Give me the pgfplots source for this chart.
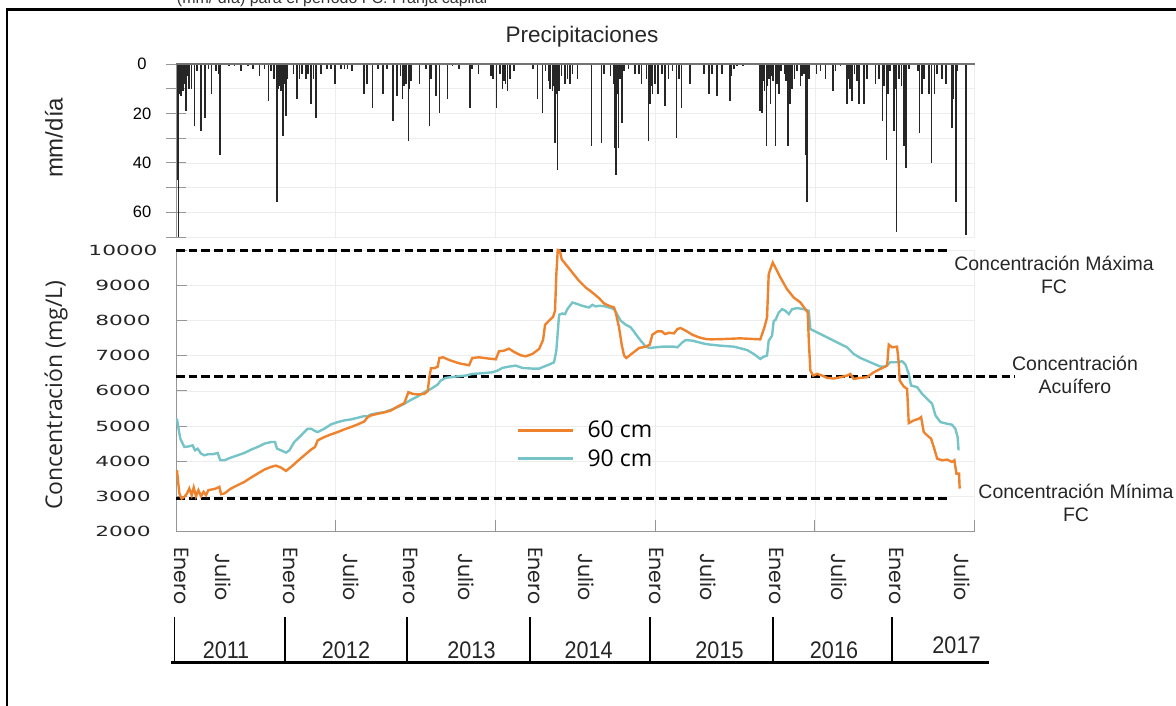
\documentclass[border=0pt]{standalone}
\usepackage{pgfplots}
\pgfplotsset{compat=1.18}
\usepackage{fontspec}
\setmainfont{Liberation Sans}
\newfontfamily\widefont[FakeStretch=1.55]{DejaVu Sans}
\newfontfamily\myriad{Open Sans}
\newfontfamily\narrowfont[FakeStretch=0.9]{Liberation Sans}
\newfontfamily\gothic{Poppins}
\definecolor{c60}{RGB}{238,130,45}
\definecolor{c90}{RGB}{118,196,200}
\definecolor{axgray}{RGB}{150,150,150}

% precipitacion diaria (mm/dia), x en anos decimales
\pgfplotstableread{
t mm
2011.015 47
2011.020 70
2011.030 12
2011.042 13
2011.048 6
2011.056 11
2011.066 8
2011.084 19
2011.095 5
2011.111 10
2011.131 10
2011.153 25
2011.175 3
2011.209 27
2011.242 22
2011.270 2
2011.298 12
2011.334 3
2011.354 4
2011.370 37
2011.445 1
2011.487 1
2011.543 3
2011.599 1
2011.641 2
2011.696 5
2011.738 2
2011.771 15
2011.794 3
2011.821 6
2011.844 56
2011.853 10
2011.863 9
2011.877 11
2011.887 5
2011.896 29
2011.907 8
2011.919 21
2011.933 6
2011.983 4
2012.011 14
2012.030 6
2012.053 4
2012.086 6
2012.105 4
2012.128 16
2012.150 6
2012.170 22
2012.211 4
2012.261 2
2012.295 2
2012.328 8
2012.378 2
2012.406 2
2012.434 2
2012.468 3
2012.568 12
2012.596 8
2012.640 18
2012.685 2
2012.727 12
2012.763 2
2012.815 23
2012.846 13
2012.874 5
2012.891 14
2012.905 9
2012.921 8
2012.941 31
2012.952 10
2012.963 7
2013.033 8
2013.089 2
2013.116 25
2013.130 6
2013.172 13
2013.200 20
2013.267 14
2013.308 1
2013.364 2
2013.454 18
2013.475 2
2013.526 4
2013.629 5
2013.648 6
2013.676 18
2013.704 4
2013.726 10
2013.740 7
2013.754 8
2013.768 11
2013.788 6
2013.824 3
2013.982 2
2014.018 14
2014.060 20
2014.088 3
2014.110 7
2014.122 10
2014.144 11
2014.155 9
2014.166 32
2014.176 12
2014.186 43
2014.200 11
2014.220 5
2014.250 8
2014.269 6
2014.289 8
2014.311 4
2014.353 6
2014.470 33
2014.553 32
2014.576 4
2014.631 5
2014.655 8
2014.665 34
2014.676 45
2014.685 12
2014.695 34
2014.710 6
2014.723 24
2014.743 3
2014.779 2
2014.835 4
2014.868 4
2014.887 8
2014.930 6
2014.946 31
2014.957 16
2014.968 9
2014.979 12
2015.002 8
2015.027 12
2015.058 4
2015.085 17
2015.113 6
2015.146 3
2015.180 30
2015.202 6
2015.221 18
2015.292 8
2015.411 4
2015.453 12
2015.478 4
2015.520 13
2015.561 4
2015.626 15
2015.640 5
2015.659 2
2015.687 1
2015.737 1
2015.876 19
2015.886 8
2015.896 20
2015.905 7
2015.915 11
2015.932 33
2015.941 9
2015.951 6
2015.965 16
2015.976 5
2015.987 7
2016.007 33
2016.020 8
2016.035 12
2016.054 3
2016.082 4
2016.096 7
2016.110 33
2016.127 16
2016.146 10
2016.165 6
2016.188 3
2016.216 9
2016.230 5
2016.244 4
2016.261 37
2016.272 56
2016.286 6
2016.349 4
2016.383 3
2016.424 6
2016.489 11
2016.508 3
2016.550 1
2016.606 16
2016.617 6
2016.628 10
2016.647 15
2016.667 4
2016.690 7
2016.703 16
2016.745 16
2016.773 6
2016.842 8
2016.870 6
2016.900 23
2016.915 9
2016.934 39
2016.948 12
2016.962 3
2016.996 27
2017.008 10
2017.018 68
2017.037 6
2017.060 9
2017.079 33
2017.098 42
2017.121 2
2017.196 3
2017.210 28
2017.232 12
2017.250 6
2017.288 12
2017.310 40
2017.335 12
2017.358 4
2017.399 6
2017.430 8
2017.482 26
2017.496 14
2017.513 56
2017.529 3
2017.600 69
}\precip

% concentracion a 60 cm (mg/L)
\pgfplotstableread{
t c
2011.008 3745
2011.028 3085
2011.047 2943
2011.070 2990
2011.092 3085
2011.111 3226
2011.131 3038
2011.148 3255
2011.167 3009
2011.187 3179
2011.209 3009
2011.231 3132
2011.251 3038
2011.270 3179
2011.298 3198
2011.334 3226
2011.362 3274
2011.376 3066
2011.404 3085
2011.459 3226
2011.515 3321
2011.571 3415
2011.627 3538
2011.682 3651
2011.738 3764
2011.794 3840
2011.835 3877
2011.877 3821
2011.919 3726
2011.961 3840
2012.017 4009
2012.072 4170
2012.128 4330
2012.161 4406
2012.184 4594
2012.239 4689
2012.295 4764
2012.351 4830
2012.406 4906
2012.462 4972
2012.518 5047
2012.573 5132
2012.601 5255
2012.629 5302
2012.685 5349
2012.740 5387
2012.796 5443
2012.852 5557
2012.907 5651
2012.941 5962
2012.977 5915
2013.019 5896
2013.074 5915
2013.103 5991
2013.116 6387
2013.130 6642
2013.158 6642
2013.186 6689
2013.200 6934
2013.231 6953
2013.281 6877
2013.364 6783
2013.448 6726
2013.475 6934
2013.531 6953
2013.615 6915
2013.671 6896
2013.698 7123
2013.740 7142
2013.782 7198
2013.824 7104
2013.880 7009
2013.921 6981
2013.977 7047
2014.033 7189
2014.066 7443
2014.083 7877
2014.116 7991
2014.150 8104
2014.166 8274
2014.177 9311
2014.189 10000
2014.206 9980
2014.222 9736
2014.256 9594
2014.311 9358
2014.367 9123
2014.423 8934
2014.478 8792
2014.534 8632
2014.576 8481
2014.617 8415
2014.659 8368
2014.673 8226
2014.701 7802
2014.723 7311
2014.743 7000
2014.762 6934
2014.812 7066
2014.868 7217
2014.924 7255
2014.957 7311
2014.979 7594
2015.021 7689
2015.058 7689
2015.085 7613
2015.119 7651
2015.160 7632
2015.188 7755
2015.216 7783
2015.258 7708
2015.313 7594
2015.369 7519
2015.425 7472
2015.469 7462
2015.575 7472
2015.714 7491
2015.881 7462
2015.915 7802
2015.937 8085
2015.951 9311
2015.965 9453
2015.985 9642
2016.007 9500
2016.049 9217
2016.104 8887
2016.160 8651
2016.216 8509
2016.257 8321
2016.277 8226
2016.286 7425
2016.299 6575
2016.322 6434
2016.355 6481
2016.397 6434
2016.439 6368
2016.494 6349
2016.550 6387
2016.606 6434
2016.633 6481
2016.661 6340
2016.717 6368
2016.773 6387
2016.828 6528
2016.884 6623
2016.940 6717
2016.954 7311
2016.982 7236
2017.023 7255
2017.037 6811
2017.045 6292
2017.079 6123
2017.107 6057
2017.121 5085
2017.163 5160
2017.205 5208
2017.224 5255
2017.246 4830
2017.274 4736
2017.307 4642
2017.330 4406
2017.358 4075
2017.399 4028
2017.441 4047
2017.482 3981
2017.502 4028
2017.519 3651
2017.541 3651
2017.546 3226
}\cSesenta

% concentracion a 90 cm (mg/L)
\pgfplotstableread{
t c
2011.008 5208
2011.019 4972
2011.036 4642
2011.070 4406
2011.111 4425
2011.139 4453
2011.159 4311
2011.181 4358
2011.209 4217
2011.237 4170
2011.265 4198
2011.306 4198
2011.348 4236
2011.370 4028
2011.404 4028
2011.459 4104
2011.515 4170
2011.571 4236
2011.627 4330
2011.682 4406
2011.738 4500
2011.794 4547
2011.827 4547
2011.844 4358
2011.877 4311
2011.919 4245
2011.947 4311
2011.988 4547
2012.044 4736
2012.100 4925
2012.128 4925
2012.161 4858
2012.184 4830
2012.239 4925
2012.295 5047
2012.351 5113
2012.406 5160
2012.462 5189
2012.518 5236
2012.573 5283
2012.601 5274
2012.629 5330
2012.685 5368
2012.740 5396
2012.796 5462
2012.852 5538
2012.907 5632
2012.963 5745
2013.019 5840
2013.074 5962
2013.130 6057
2013.186 6179
2013.211 6292
2013.253 6368
2013.336 6406
2013.420 6434
2013.475 6481
2013.559 6500
2013.643 6528
2013.685 6575
2013.726 6651
2013.782 6689
2013.838 6717
2013.893 6651
2013.977 6632
2014.033 6632
2014.074 6689
2014.116 6745
2014.158 6811
2014.177 7142
2014.200 8160
2014.227 8198
2014.250 8179
2014.269 8321
2014.297 8443
2014.311 8509
2014.339 8481
2014.394 8415
2014.450 8368
2014.478 8443
2014.506 8398
2014.534 8415
2014.576 8405
2014.617 8368
2014.659 8321
2014.687 8160
2014.715 7991
2014.757 7877
2014.799 7802
2014.840 7613
2014.882 7425
2014.924 7255
2014.957 7217
2015.007 7236
2015.063 7255
2015.119 7255
2015.160 7255
2015.188 7236
2015.230 7377
2015.258 7443
2015.313 7425
2015.369 7377
2015.425 7330
2015.469 7311
2015.547 7283
2015.659 7255
2015.770 7160
2015.826 7047
2015.881 6906
2015.910 6972
2015.937 7000
2015.951 7425
2015.979 7566
2015.993 7991
2016.007 8009
2016.035 8226
2016.063 8321
2016.091 8274
2016.119 8179
2016.146 8321
2016.188 8349
2016.244 8321
2016.286 8274
2016.299 7755
2016.355 7660
2016.439 7519
2016.522 7377
2016.606 7236
2016.661 7047
2016.717 6934
2016.800 6811
2016.884 6689
2016.926 6689
2016.967 6811
2017.023 6811
2017.065 6840
2017.093 6745
2017.121 6481
2017.140 6151
2017.191 6104
2017.232 5915
2017.274 5774
2017.316 5632
2017.344 5302
2017.385 5113
2017.441 5066
2017.482 5038
2017.510 4925
2017.529 4689
2017.537 4311
}\cNoventa

\begin{document}
\begin{tikzpicture}[x=1pt,y=1pt]
\useasboundingbox (0,0) rectangle (1176,706);

% marco y pie de figura cortado
\node[anchor=base, font=\fontsize{16}{16}\selectfont, text=black!80] at (333,702) {(mm/ día) para el período FC: Franja capilar};
\draw[line width=2.2pt] (7,-10) -- (7,696.5) -- (1190,696.5);

% ---- precipitaciones ----
\begin{axis}[
    at={(176pt,469pt)}, anchor=south west,
    scale only axis, width=798.5pt, height=173pt,
    xmin=2011, xmax=2017.67, ymin=0, ymax=70, y dir=reverse,
    axis line style={draw=none},
    xtick={2011,2012.334,2013.668,2015.002,2016.336,2017.67},
    xticklabels={}, xtick style={draw=none},
    ytick={0,20,40,60}, minor ytick={10,30,50,70},
    ytick pos=left, tick align=center,
    major tick length=20pt, minor tick length=20pt,
    ytick style={axgray, line width=0.8pt},
    minor tick style={axgray, line width=0.8pt},
    grid=both,
    major grid style={black!7, line width=0.6pt},
    minor grid style={black!7, line width=0.6pt},
    yticklabel style={font=\fontsize{16.5}{16.5}\selectfont, anchor=center, xshift=-24pt},
    /pgf/number format/assume math mode=true,
    clip=false,
]
\addplot[ycomb, black!85, line width=1.6pt, no marks] table[x=t, y=mm] {\precip};
\draw[axgray, line width=0.9pt] (axis description cs:0,0) -- (axis description cs:0,1);
\draw[black!55, line width=1.1pt] (axis description cs:0,1) -- (axis description cs:1,1);
\end{axis}

% ---- concentracion ----
\begin{axis}[
    at={(176pt,174.3pt)}, anchor=south west,
    scale only axis, width=798.5pt, height=281.7pt,
    xmin=2011, xmax=2017.67, ymin=2000, ymax=10000,
    axis x line*=bottom, axis y line*=left,
    axis line style={-, draw=axgray, line width=0.9pt},
    xtick={2011,2012.334,2013.668,2015.002,2016.336,2017.67},
    xticklabels={},
    ytick={2000,3000,...,10000},
    tick align=inside, major tick length=11.5pt,
    tick style={axgray, line width=0.8pt},
    grid=major, major grid style={black!7, line width=0.6pt},
    scaled y ticks=false,
    yticklabel style={font=\widefont\fontsize{14}{14}\selectfont, text=black!85, anchor=center, xshift=-53pt,
        /pgf/number format/1000 sep={}},
    /pgf/number format/assume math mode=true,
    clip=false,
    legend style={at={(axis description cs:0.427,0.40)}, anchor=north west, draw=none, fill=none,
        font=\myriad\fontsize{23}{23}\selectfont, row sep=6pt, inner sep=0pt,
        /tikz/every odd column/.append style={column sep=11pt}},
    legend cell align=left,
    legend image code/.code={\draw[#1] (0pt,0pt) -- (55pt,0pt);},
]
\addlegendimage{c60, line width=2.4pt}
\addlegendentry{60 cm}
\addlegendimage{c90, line width=2.4pt}
\addlegendentry{90 cm}
% limites de referencia
\addplot[black, line width=3pt, dash pattern=on 8.5pt off 4.2pt, forget plot] coordinates {(2011,10000) (2017.442,10000)};
\addplot[black, line width=3pt, dash pattern=on 8.5pt off 4.2pt, forget plot] coordinates {(2011,6400) (2018.002,6400)};
\addplot[black, line width=3pt, dash pattern=on 8.5pt off 4.2pt, forget plot] coordinates {(2011,2950) (2017.442,2950)};
\addplot[c90, line width=2.4pt, forget plot] table[x=t, y=c] {\cNoventa};
\addplot[c60, line width=2.4pt, forget plot] table[x=t, y=c] {\cSesenta};
\end{axis}

% textos
\node[font=\fontsize{22.5}{22.5}\selectfont, text=black!85] at (582,669) {Precipitaciones};
\node[rotate=90, font=\fontsize{24}{24}\selectfont, text=black!85] at (54,568) {mm/día};
\node[rotate=90, font=\myriad\fontsize{23}{23}\selectfont, text=black!85] at (56,311) {Concentración (mg/L)};

\begin{scope}[font=\fontsize{19.5}{23}\selectfont, text=black!85]
\node[align=center] at (1054,431.5) {Concentración Máxima\\FC};
\node[align=center] at (1075,331.5) {Concentración\\Acuífero};
\node[align=center] at (1076,203.5) {Concentración Mínima\\FC};
\end{scope}

% meses
\begin{scope}[font=\gothic\fontsize{20.5}{20.5}\selectfont, text=black!85, inner sep=0pt]
\foreach \x in {181.6,290.6,410.5,535.3,656.8,776.7,896.6}
  \node[rotate=-90, anchor=west] at (\x,159) {Enero};
\foreach \x in {223.6,351.6,466,586,708.6,839.4,962}
  \node[rotate=-90, anchor=west] at (\x,153) {Julio};
\end{scope}

% anos
\draw[line width=3pt] (170.7,43) -- (989,43);
\foreach \x in {174.5,285,407,530,650,773,892}
  \draw[line width=1.8pt] (\x,89) -- (\x,43);
\begin{scope}[font=\narrowfont\fontsize{24}{24}\selectfont, text=black!85]
\node at (226,56) {2011};
\node at (346,56) {2012};
\node at (471.5,56) {2013};
\node at (588.7,56) {2014};
\node at (719.5,56) {2015};
\node at (834,56) {2016};
\node at (956.5,61) {2017};
\end{scope}
\end{tikzpicture}
\end{document}
